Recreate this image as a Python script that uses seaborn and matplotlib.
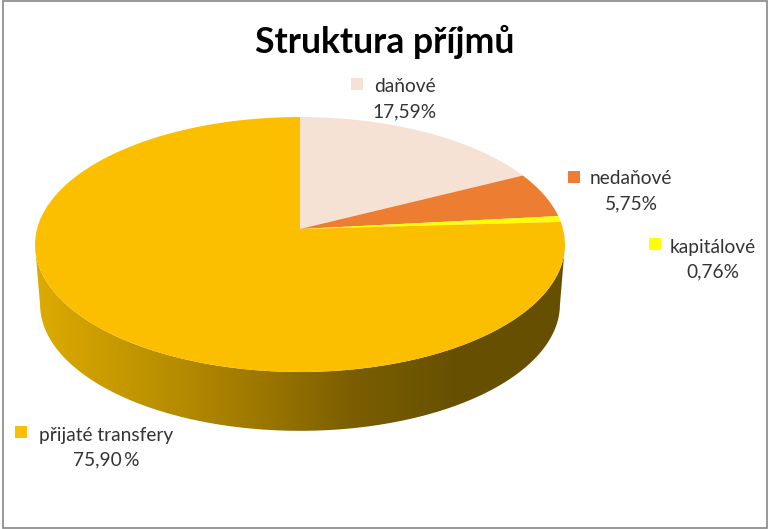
import numpy as np
import seaborn as sns
import matplotlib.pyplot as plt
from matplotlib.colors import ListedColormap
from matplotlib.patches import Rectangle
from matplotlib.path import Path
from matplotlib.transforms import Transform

title = "Struktura příjmů"
categories = ["daňové", "nedaňové", "kapitálové", "přijaté transfery"]
shares = [17.59, 5.75, 0.76, 75.90]
share_labels = ["17,59%", "5,75%", "0,76%", "75,90\u2009%"]
colors = ["#F6E1D5", "#ED7D31", "#FFFF00", "#FBBF00"]

# label layout in pixels: key x, key y, text centre x, first line y
label_pos = [(356.5, 84, 405, 87), (573.5, 177, 631, 179), (655, 244, 713, 247), (21, 432, 106, 435)]

sns.set_theme(style="white")
plt.rcParams["font.family"] = ["Lato", "DejaVu Sans"]


class Tilt(Transform):
    # tilted disc seen in perspective, unit circle -> pixels
    input_dims = 2
    output_dims = 2

    def __init__(self, cx, cy, a, b, k):
        super().__init__()
        self.cx, self.cy, self.a, self.b, self.k = cx, cy, a, b, k

    def transform_non_affine(self, xy):
        xy = np.asarray(xy, dtype=float)
        w = 1 + self.k * xy[:, 1]
        return np.column_stack((self.cx + self.a * xy[:, 0] / w, self.cy - self.b * xy[:, 1] / w))


fig = plt.figure(figsize=(7.68, 5.29), dpi=100)
ax = fig.add_axes([0, 0, 1, 1])

top = Tilt(300, 229, 263, 125.6, 0.1216)
bottom = Tilt(300, 289, 258, 124.6, 0.1216)

wedges, _ = ax.pie(shares, colors=colors, startangle=90, counterclock=False, wedgeprops={"linewidth": 0})
for w in wedges:
    w.set_transform(top + ax.transData)

# side of the disc, gradient clipped to the band between both rims
t = np.linspace(np.pi * 1.04, np.pi * 1.96, 200)
rim = np.column_stack((np.cos(t), np.sin(t)))
outline = np.vstack((top.transform(rim), bottom.transform(rim)[::-1]))
side_cmap = ListedColormap(sns.blend_palette(["#DDAB00", "#C09400", "#A17B00", "#7B5E00", "#665000", "#665000"], 256))
side = ax.imshow(np.linspace(0, 1, 256)[None, :], extent=(35, 565, 440, 240), cmap=side_cmap, aspect="auto", zorder=0.5)
side.set_clip_path(Path(outline), ax.transData)

ax.set_aspect("auto")
ax.set_xlim(0, 768)
ax.set_ylim(529, 0)
ax.axis("off")

ax.add_patch(Rectangle((2.5, 0.5), 764.5, 527.5, fill=False, edgecolor="#868686", linewidth=1.2))

ax.text(385, 41.5, title, ha="center", va="center", fontsize=25.6, fontweight="bold", color="black")

for name, lab, col, (kx, ky, tx, ty) in zip(categories, share_labels, colors, label_pos):
    ax.scatter([kx], [ky], marker="s", s=63, color=col, linewidths=0)
    ax.text(tx, ty, name, ha="center", va="center", fontsize=13.8, color="#333333")
    ax.text(tx, ty + 25, lab, ha="center", va="center", fontsize=13.8, color="#333333")

fig.savefig("out.png", dpi=100)
